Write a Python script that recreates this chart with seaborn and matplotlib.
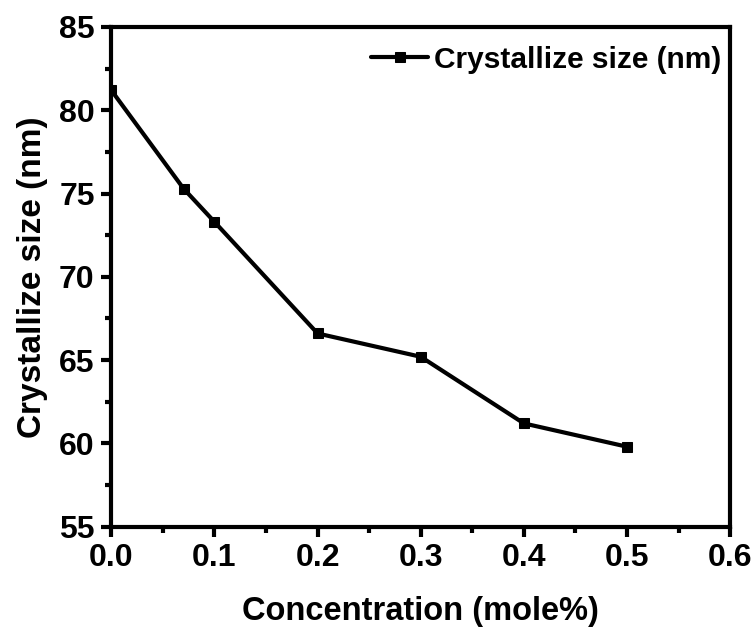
import matplotlib
matplotlib.use("Agg")
import matplotlib.pyplot as plt
import seaborn as sns
import pandas as pd
from matplotlib.ticker import MultipleLocator, FormatStrFormatter

concentration = [0.0, 0.07, 0.1, 0.2, 0.3, 0.4, 0.5]
crystallite_size = [81.2, 75.3, 73.3, 66.6, 65.2, 61.2, 59.8]

sns.set_style("white")
plt.rcParams["font.family"] = ["Liberation Sans", "DejaVu Sans"]
plt.rcParams["font.weight"] = "bold"
plt.rcParams["text.color"] = "black"
plt.rcParams["axes.labelcolor"] = "black"
plt.rcParams["xtick.color"] = "black"
plt.rcParams["ytick.color"] = "black"

df = pd.DataFrame({"x": concentration, "y": crystallite_size})

fig = plt.figure(figsize=(7.52, 6.27), dpi=100)
ax = fig.add_axes([0.148, 0.16, 0.823, 0.797])

sns.lineplot(data=df, x="x", y="y", ax=ax, color="black", linewidth=3,
             marker="s", markersize=7.5, markeredgecolor="black",
             label="Crystallize size (nm)")

ax.set_xlim(0, 0.6)
ax.set_ylim(55, 85)
ax.xaxis.set_major_locator(MultipleLocator(0.1))
ax.xaxis.set_minor_locator(MultipleLocator(0.05))
ax.yaxis.set_major_locator(MultipleLocator(5))
ax.yaxis.set_minor_locator(MultipleLocator(2.5))
ax.xaxis.set_major_formatter(FormatStrFormatter("%.1f"))

for s in ax.spines.values():
    s.set_linewidth(3)
    s.set_color("black")

ax.tick_params(which="major", direction="out", length=7, width=3, colors="black",
               labelsize=23, bottom=True, left=True, top=False, right=False, pad=5)
ax.tick_params(which="minor", direction="out", length=4, width=3, colors="black",
               bottom=True, left=True, top=False, right=False)
for lbl in ax.get_xticklabels() + ax.get_yticklabels():
    lbl.set_fontweight("bold")

ax.set_xlabel("Concentration (mole%)", fontsize=23.5, fontweight="bold", labelpad=16)
ax.set_ylabel("Crystallize size (nm)", fontsize=24, fontweight="bold", labelpad=8)

leg = ax.legend(loc="upper right", bbox_to_anchor=(1.0, 0.98), frameon=False,
                fontsize=21.5, handlelength=1.9, handletextpad=0.2,
                borderpad=0.1, borderaxespad=0.2)
for t in leg.get_texts():
    t.set_fontweight("bold")
    t.set_color("black")

fig.savefig("out.png", dpi=100)
